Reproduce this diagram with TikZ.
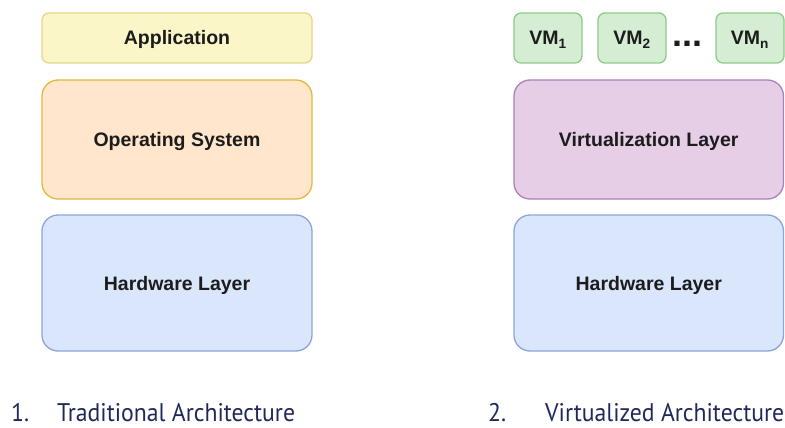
\documentclass[tikz,border=0pt]{standalone}
\usepackage{fontspec}
\usepackage{xcolor}
\setmainfont{Liberation Sans}
\newfontfamily\captionfont{PT Sans}[FakeStretch=0.93]
\usetikzlibrary{positioning}

\definecolor{appfill}{HTML}{FBF6C7}
\definecolor{appdraw}{HTML}{E6D68A}
\definecolor{osfill}{HTML}{FFE6CC}
\definecolor{osdraw}{HTML}{E3B83A}
\definecolor{hwfill}{HTML}{DAE6FC}
\definecolor{hwdraw}{HTML}{8CA4D6}
\definecolor{virtfill}{HTML}{E5CEE6}
\definecolor{virtdraw}{HTML}{AD80B8}
\definecolor{vmfill}{HTML}{D5EDD3}
\definecolor{vmdraw}{HTML}{8FCB8A}
\definecolor{boxtext}{HTML}{1C1C1C}
\definecolor{captext}{HTML}{20285A}

\newcommand{\boxfont}{\fontsize{19.5}{22}\selectfont\bfseries}
\newcommand{\capsize}{\fontsize{25.5}{30}\selectfont}

\begin{document}
\begin{tikzpicture}[x=1pt,y=-1pt,
    layer/.style={draw,rounded corners=16pt,line width=1.3pt,minimum width=270pt,
                  text height=18pt,text depth=4pt,text=boxtext,font=\boxfont},
    slim/.style={layer,rounded corners=7pt,minimum height=50pt},
    vm/.style={slim,minimum width=68pt,draw=vmdraw,fill=vmfill},
    caption/.style={anchor=base west,inner sep=0pt,text depth=0pt,text=captext,font=\captionfont\capsize}]

    \useasboundingbox (0,0) rectangle (785,428);

    % traditional stack
    \node[slim,fill=appfill,draw=appdraw] (app) at (177,38) {Application};
    \node[layer,minimum height=119pt,fill=osfill,draw=osdraw] (os) at (177,139.5) {Operating System};
    \node[layer,minimum height=136pt,fill=hwfill,draw=hwdraw] (hw_1) at (177,283) {Hardware Layer};

    % virtualized stack
    \node[vm] (vm_1) at (548,38) {VM\textsubscript{1}};
    \node[vm] (vm_2) at (632,38) {VM\textsubscript{2}};
    \node[vm] (vm_n) at (750,38) {VM\textsubscript{n}};
    \node[anchor=base,inner sep=0pt,text=boxtext,font=\fontsize{36}{36}\selectfont\bfseries] (dots) at (687.5,47) {...};

    \node[layer,minimum width=269.5pt,minimum height=119pt,fill=virtfill,draw=virtdraw] (virt) at (648.75,139.5) {Virtualization Layer};
    \node[layer,minimum width=269.5pt,minimum height=136pt,fill=hwfill,draw=hwdraw] (hw_2) at (648.75,283) {Hardware Layer};

    % captions
    \node[caption] (num_1) at (11,421) {1.};
    \node[caption] (cap_1) at (57,421) {Traditional Architecture};
    \node[caption] (num_2) at (488,421) {2.};
    \node[caption] (cap_2) at (545,421) {Virtualized Architecture};
\end{tikzpicture}
\end{document}
